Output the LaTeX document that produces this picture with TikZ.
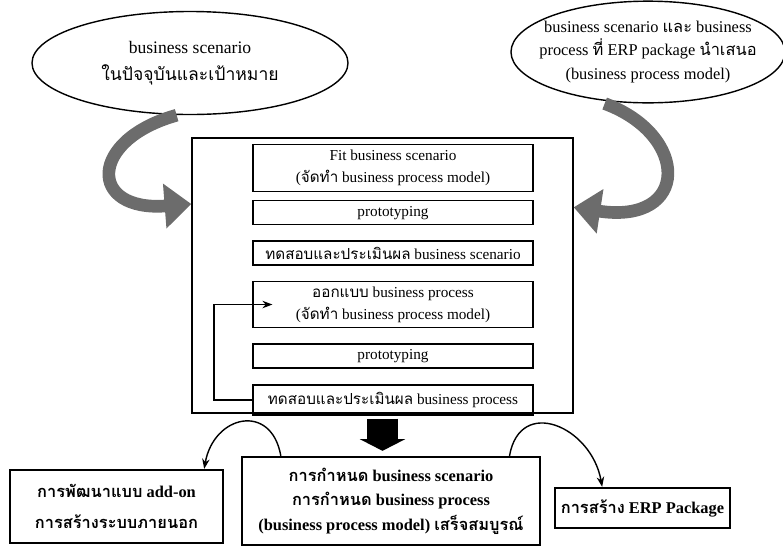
\documentclass[tikz,border=0pt]{standalone}
\usepackage{fontspec}
\setmainfont{Liberation Serif}
\newfontfamily\thaifont[Script=Thai]{Loma}
\newcommand{\tha}[1]{{\thaifont #1}}
\usetikzlibrary{shapes.geometric,arrows.meta,positioning,calc}

\tikzset{
  bubble/.style={draw, ellipse, line width=1.2pt, inner sep=0pt},
  stage/.style={draw, line width=1pt, minimum width=8.4cm, minimum height=0.72cm, align=center, inner sep=2pt},
  outcome/.style={draw, line width=2pt, align=center, font=\fontsize{14}{21}\selectfont\bfseries},
  turn/.style={line width=0.38cm, draw=gray!85!black, -{Triangle[width=1.3cm,length=0.8cm]}},
  jump/.style={-{Stealth[length=3mm]}, line width=1.2pt}
}

\begin{document}
\begin{tikzpicture}[x=0.03cm, y=-0.03cm, font=\fontsize{13}{19}\selectfont, node distance=0.45cm]
 \useasboundingbox (0,0) rectangle (783,548);

 \node[bubble, minimum width=9.48cm, minimum height=3.09cm,
   label={[align=center, font=\fontsize{15}{23}\selectfont]center:business scenario\\\tha{ในปัจจุบันและเป้าหมาย}}] (now) at (190,63) {};
 \node[bubble, minimum width=8.22cm, minimum height=3.05cm,
   label={[align=center, font=\fontsize{14}{20}\selectfont]center:business scenario \tha{และ} business\\process \tha{ที่} ERP package \tha{นำเสนอ}\\(business process model)}] (offer) at (648,52) {};

 \node[draw, line width=1.2pt, minimum width=11.43cm, minimum height=8.25cm] (main) at (382.5,275.5) {};

 \node[stage, minimum height=1.4cm] (p1) at (393,168) {Fit business scenario\\(\tha{จัดทำ} business process model)};
 \node[stage, below=0.25cm of p1] (p2) {prototyping};
 \node[stage, below=of p2] (p3) {\tha{ทดสอบและประเมินผล} business scenario};
 \node[stage, minimum height=1.4cm, below=of p3] (p4) {\tha{ออกแบบ} business process\\(\tha{จัดทำ} business process model)};
 \node[stage, line width=1.5pt, below=of p4] (p5) {prototyping};
 \node[stage, line width=1.6pt, minimum height=0.9cm, below=of p5] (p6) {\tha{ทดสอบและประเมินผล} business process};

 \draw[jump] (p6.west) -- ++(-38,0) |- ([xshift=0.6cm]p4.west);

 % turning arrows into the process
 \draw[turn] ([xshift=-0.4cm]now.south) .. controls (88,140) and (88,212) .. ([yshift=-2cm]main.north west);
 \draw[turn] ([xshift=-1.3cm]offer.south) .. controls (690,135) and (690,225) .. ([yshift=-2.1cm]main.north east);

 \node[outcome, minimum width=6.39cm, minimum height=2.19cm] (addon) at (116.5,506.5) {\tha{การพัฒนาแบบ} add-on\\[6pt]\tha{การสร้างระบบภายนอก}};
 \node[outcome, minimum width=8.94cm, minimum height=2.64cm] (res) at (391,501) {\tha{การกำหนด} business scenario\\\tha{การกำหนด} business process\\(business process model) \tha{เสร็จสมบูรณ์}};
 \node[outcome, minimum width=5.25cm, minimum height=1.2cm] (erp) at (642.5,508) {\tha{การสร้าง} ERP Package};

 \draw[line width=0.95cm, -{Triangle[width=1.35cm,length=0.35cm]}] ([yshift=-0.15cm]main.south) -- ([yshift=0.15cm]main.south |- res.north);

 \draw[jump] ([xshift=1.2cm]res.north west) to[out=100, in=80, looseness=1.8] ([xshift=-0.6cm]addon.north east);
 \draw[jump] ([xshift=-0.95cm]res.north east) to[out=80, in=100, looseness=1.6] ([xshift=1.45cm]erp.north west);
\end{tikzpicture}
\end{document}
